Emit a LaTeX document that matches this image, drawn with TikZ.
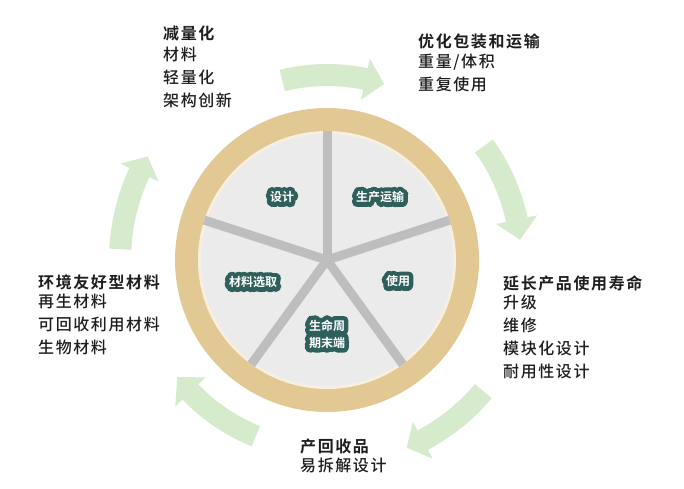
\documentclass[tikz,border=0pt]{standalone}
\usepackage{fontspec}
\setmainfont{Noto Sans CJK SC}[LetterSpace=10, UprightFont={* Medium}, BoldFont={* Bold}]
\newfontfamily\segoutline{Noto Sans CJK SC Bold}[FakeBold=75]
\newfontfamily\segfill{Noto Sans CJK SC Bold}
\definecolor{ringtan}{HTML}{E2C993}
\definecolor{cream}{HTML}{F7EFDF}
\definecolor{disc}{HTML}{EBEBEB}
\definecolor{spokegray}{HTML}{BEBEBE}
\definecolor{arrowgreen}{HTML}{D5EBCC}
\definecolor{segteal}{HTML}{2E5F5B}
\definecolor{textdark}{HTML}{1E1E1E}
\newcommand{\roundjoin}{\special{pdf:code 1 j 1 J}}
\newcommand{\cyclearrow}[4]{%
  \fill[arrowgreen] (#2:{#1+11}) arc[start angle=#2,end angle=#3,radius={#1+11}]
    -- (#3:{#1+21}) -- (#4:{#1}) -- (#3:{#1-21}) -- (#3:{#1-11})
    arc[start angle=#3,end angle=#2,radius={#1-11}] -- cycle;}
\tikzset{
  spoke/.style={draw=spokegray, line width=9pt},
  txt/.style={anchor=north west, align=left, inner sep=0pt, text=textdark,
    font=\fontsize{16}{23}\selectfont},
  segback/.style={inner sep=0pt, text=segteal, align=center,
    font=\segoutline\fontsize{12}{17}\selectfont\roundjoin},
  seg/.style={inner sep=0pt, text=white, align=center,
    font=\segfill\fontsize{12}{17}\selectfont},
}
\begin{document}
\begin{tikzpicture}[x=1pt,y=1pt]
\useasboundingbox (0,0) rectangle (684,488);
\coordinate (c) at (327,228);
% wheel
\fill[ringtan] (c) circle (152);
\fill[cream] (c) circle (129);
\fill[disc] (c) circle (126);
\foreach \a in {90,18,-54,-126,162} \draw[spoke] (c) -- ++(\a:129);
% cycle arrows
\begin{scope}[shift={(327,228)}]
  \cyclearrow{185}{104}{78}{72}
  \cyclearrow{194}{36}{12}{6}
  \cyclearrow{204}{-40}{-62}{-67}
  \cyclearrow{190}{-112}{-136}{-142}
  \cyclearrow{207}{177}{155}{150}
\end{scope}
% segment labels (teal halo underneath, white text on top)
\node[segback] (designb) at (282,291) {设计};
\node[seg] (design) at (282,291) {设计};
\node[segback] (produceb) at (380,291) {生产运输};
\node[seg] (produce) at (380,291) {生产运输};
\node[segback] (useb) at (398,207) {使用};
\node[seg] (use) at (398,207) {使用};
\node[segback] (materialb) at (253,206) {材料选取};
\node[seg] (material) at (253,206) {材料选取};
\node[segback] (eolb) at (327,154) {生命周\\期末端};
\node[seg] (eol) at (327,154) {生命周\\期末端};
% text blocks
\node[txt] (light) at (163,462) {\textbf{减量化}\\[-2pt]材料\\轻量化\\架构创新};
\node[txt] (pack) at (418,454) {\textbf{优化包装和运输}\\[-3pt]重量/体积\\重复使用};
\node[txt] (life) at (503,213) {\textbf{延长产品使用寿命}\\[-4pt]升级\\维修\\模块化设计\\耐用性设计};
\node[txt] (eco) at (38,213) {\textbf{环境友好型材料}\\[-4pt]再生材料\\可回收利用材料\\生物材料};
\node[txt] (recov) at (300,49) {\textbf{产回收品}\\[-4pt]易拆解设计};
\end{tikzpicture}
\end{document}
